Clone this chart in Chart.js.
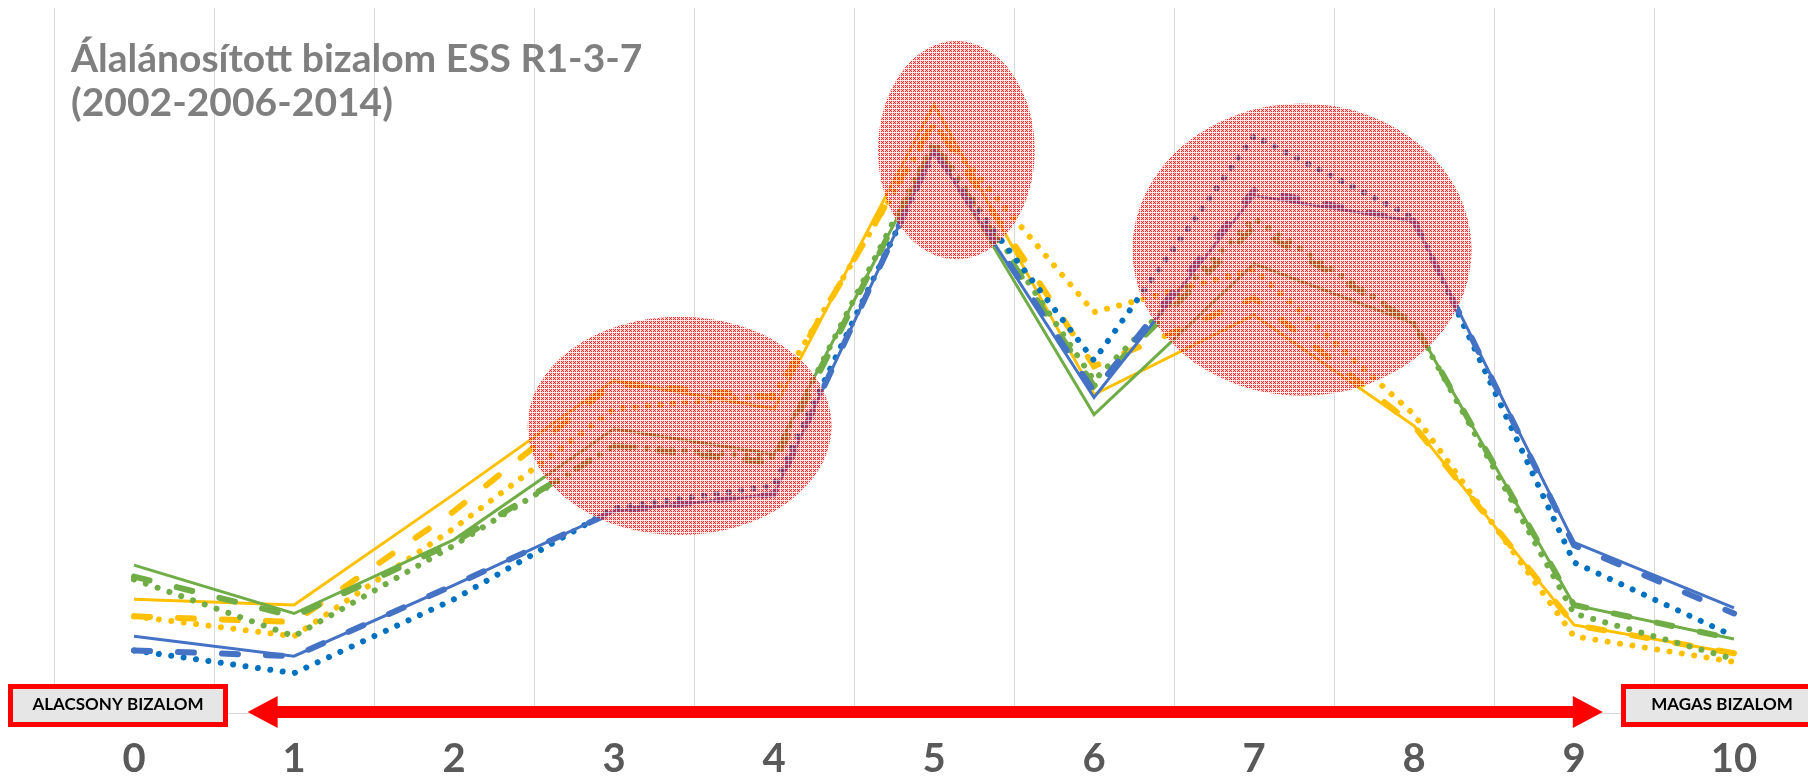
<!DOCTYPE html>
<html>
<head>
<meta charset="utf-8">
<script src="https://cdn.jsdelivr.net/npm/chart.js@4.4.1/dist/chart.umd.min.js"></script>
<style>
html, body { margin: 0; padding: 0; overflow: hidden; background: #fff; }
#wrap { width: 1814px; height: 776px; position: relative; }
</style>
</head>
<body>
<div id="wrap"><canvas id="cvs"></canvas></div>
<script>
// trust scale 0..10, share of respondents (%)
const cats = ['0', '1', '2', '3', '4', '5', '6', '7', '8', '9', '10'];

const blueSolid  = [2.7, 2.0, 4.5, 7.1, 7.7, 19.8, 11.1, 18.2, 17.3, 6.0, 3.7];
const blueDash   = [2.2, 2.0, 4.5, 7.1, 7.7, 19.8, 11.3, 18.4, 17.3, 5.9, 3.5];
const blueDot    = [2.2, 1.4, 4.0, 7.2, 8.0, 19.7, 12.4, 20.3, 17.4, 5.3, 2.7];
const greenSolid = [5.2, 3.5, 6.1, 10.0, 9.1, 19.9, 10.5, 15.8, 13.7, 3.8, 2.6];
const greenDash  = [4.8, 3.4, 6.0, 9.4, 8.8, 20.0, 11.5, 17.1, 13.7, 3.8, 2.6];
const greenDot   = [4.7, 2.7, 5.9, 9.4, 9.0, 20.1, 11.7, 17.4, 13.7, 3.5, 1.9];
const yellowSolid = [4.0, 3.8, 7.7, 11.7, 10.7, 21.4, 11.2, 14.0, 10.1, 3.1, 2.1];
const yellowDash  = [3.4, 3.2, 7.1, 11.6, 11.1, 20.8, 12.2, 14.6, 10.1, 3.1, 2.1];
const yellowDot   = [3.4, 2.7, 6.5, 10.7, 11.2, 20.7, 14.1, 15.6, 10.5, 2.7, 1.8];

const titleLines = ['Álalánosított bizalom ESS R1-3-7', '(2002-2006-2014)'];
const lowLabel = 'ALACSONY BIZALOM';
const highLabel = 'MAGAS BIZALOM';

// highlighted areas: centre (category, %), radius (category, %)
const highlights = [
	{ x: 3.41, y: 10.1, rx: 0.95, ry: 3.84 },
	{ x: 5.14, y: 19.8, rx: 0.49, ry: 3.84 },
	{ x: 7.30, y: 16.3, rx: 1.06, ry: 5.14 }
];

const BLUE = '#4472C4', BLUE2 = '#0070C0', GREEN = '#70AD47', YELLOW = '#FFC000';

function solid(data, color) {
	return { data: data, borderColor: color, borderWidth: 3, pointRadius: 0, tension: 0 };
}
function dashed(data, color) {
	return { data: data, borderColor: color, borderWidth: 6, borderDash: [16, 28], borderCapStyle: 'round', pointRadius: 0, tension: 0 };
}
function dotted(data, color) {
	return { data: data, borderColor: color, borderWidth: 6, borderDash: [0.01, 12.5], borderCapStyle: 'round', pointRadius: 0, tension: 0 };
}

function hatchPattern(ctx) {
	let c = document.createElement('canvas');
	c.width = 4; c.height = 4;
	let g = c.getContext('2d');
	g.fillStyle = 'rgba(255,0,0,0.22)';
	g.fillRect(0, 0, 4, 4);
	g.fillStyle = 'rgba(255,0,0,0.8)';
	[[1, 1], [3, 3], [1, 3], [3, 1], [2, 2]].forEach(p => g.fillRect(p[0], p[1], 1, 1));
	g.fillStyle = 'rgba(255,255,255,0.6)';
	g.fillRect(0, 0, 4, 1);
	g.fillRect(0, 0, 1, 4);
	return ctx.createPattern(c, 'repeat');
}

const decorations = {
	id: 'decorations',
	afterDatasetsDraw(chart) {
		let ctx = chart.ctx;
		let xs = chart.scales.x, ys = chart.scales.y;
		let unitX = xs.getPixelForValue(1) - xs.getPixelForValue(0);
		let unitY = ys.getPixelForValue(0) - ys.getPixelForValue(1);
		ctx.save();
		ctx.fillStyle = hatchPattern(ctx);
		for (let h of highlights) {
			ctx.beginPath();
			ctx.ellipse(xs.getPixelForValue(h.x), ys.getPixelForValue(h.y), h.rx * unitX, h.ry * unitY, 0, 0, Math.PI * 2);
			ctx.fill();
		}
		ctx.restore();
	},
	afterDraw(chart) {
		let ctx = chart.ctx;
		let xs = chart.scales.x;
		let area = chart.chartArea;
		let y0 = area.bottom - 1;

		// double arrow
		let x1 = xs.getPixelForValue(0.71), x2 = xs.getPixelForValue(9.18);
		let head = 30, half = 16;
		ctx.save();
		ctx.fillStyle = '#FF0000';
		ctx.fillRect(x1 + head - 1, y0 - 6, x2 - x1 - 2 * head + 2, 12);
		ctx.beginPath();
		ctx.moveTo(x1, y0); ctx.lineTo(x1 + head, y0 - half); ctx.lineTo(x1 + head, y0 + half); ctx.closePath();
		ctx.fill();
		ctx.beginPath();
		ctx.moveTo(x2, y0); ctx.lineTo(x2 - head, y0 - half); ctx.lineTo(x2 - head, y0 + half); ctx.closePath();
		ctx.fill();

		// end boxes
		function box(left, right, text, cx) {
			ctx.fillStyle = '#E7E6E6';
			ctx.fillRect(left, y0 - 28, right - left, 43);
			ctx.strokeStyle = '#FF0000';
			ctx.lineWidth = 5;
			ctx.strokeRect(left + 2.5, y0 - 28 + 2.5, right - left - 5, 38);
			ctx.fillStyle = '#000';
			ctx.font = 'bold 17px Lato';
			ctx.textAlign = 'center';
			ctx.textBaseline = 'middle';
			ctx.fillText(text, cx, y0 - 7);
		}
		box(8, 228, lowLabel, 118);
		box(1621, 1830, highLabel, 1722);

		// title
		ctx.fillStyle = '#7F7F7F';
		ctx.font = 'bold 39px Lato';
		ctx.textAlign = 'left';
		ctx.textBaseline = 'alphabetic';
		ctx.fillText(titleLines[0], 71, 72);
		ctx.fillText(titleLines[1], 71, 116);
		ctx.restore();
	}
};

var config = {
	type: 'line',
	data: {
		labels: cats,
		datasets: [
			solid(blueSolid, BLUE),
			dashed(blueDash, BLUE),
			dotted(blueDot, BLUE2),
			solid(greenSolid, GREEN),
			dashed(greenDash, GREEN),
			dotted(greenDot, GREEN),
			solid(yellowSolid, YELLOW),
			dashed(yellowDash, YELLOW),
			dotted(yellowDot, YELLOW)
		]
	},
	options: {
		responsive: true,
		maintainAspectRatio: false,
		animation: false,
		layout: { padding: { left: 54, right: 0, top: 8, bottom: 0 } },
		plugins: { legend: { display: false }, tooltip: { enabled: false } },
		scales: {
			x: {
				offset: true,
				grid: { offset: true, color: '#D9D9D9', lineWidth: 1, drawTicks: false },
				border: { color: '#D9D9D9', width: 1 },
				ticks: { color: '#595959', padding: 22, font: { family: 'Lato', size: 40, weight: 'bold' } },
				afterFit: function (axis) { axis.height = 63; }
			},
			y: {
				display: false,
				min: 0,
				max: 24.8
			}
		}
	},
	plugins: [decorations]
};

var chart = new Chart('cvs', config);
</script>
</body>
</html>
